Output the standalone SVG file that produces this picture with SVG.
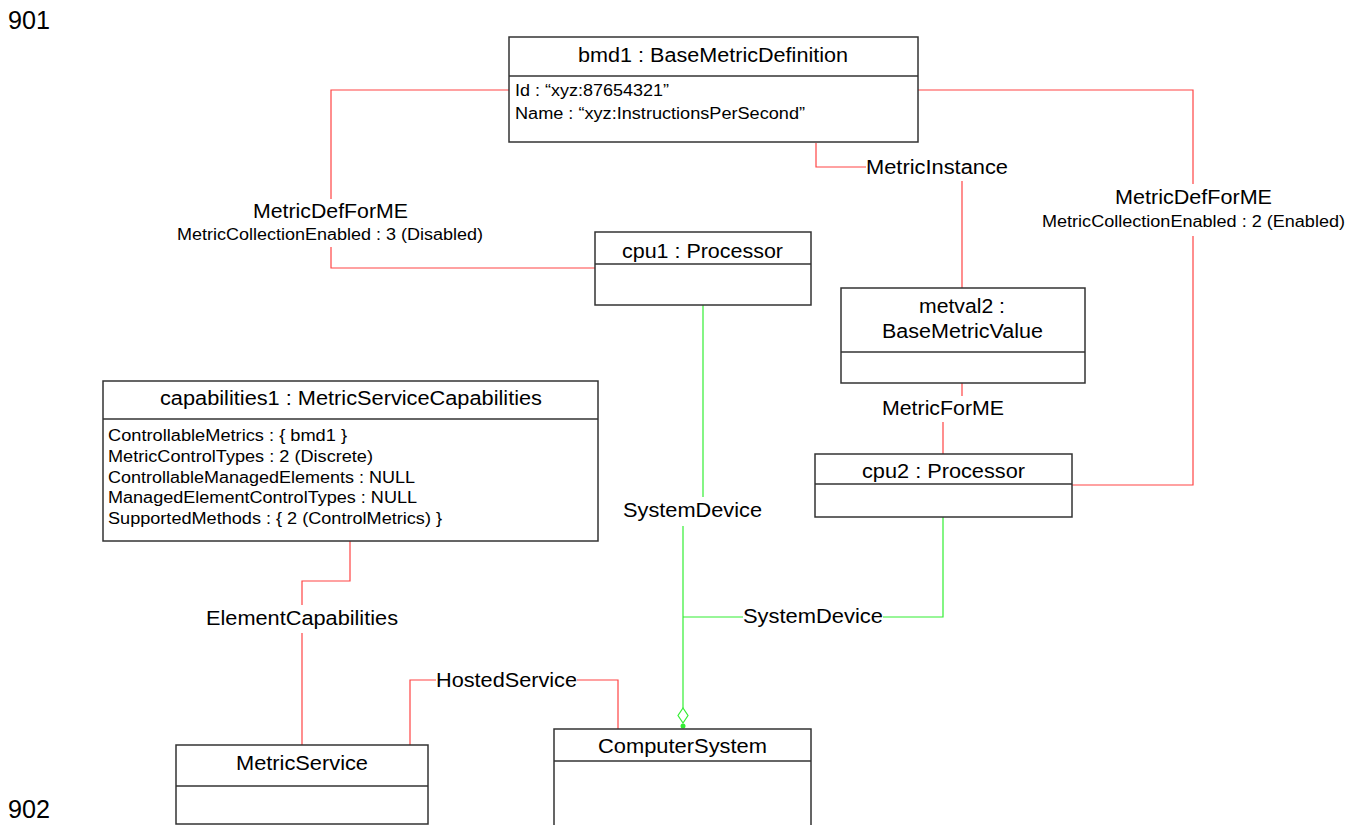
<svg xmlns="http://www.w3.org/2000/svg" width="1359" height="825" viewBox="0 0 1359 825">
<style>
text{font-family:"Liberation Sans",Arial,sans-serif;fill:#000}
.t{font-size:20px}
.a{font-size:16px}
.big{font-size:26px}
.box{fill:#fff;stroke:#333;stroke-width:1.5}
.red{fill:none;stroke:#ff4444;stroke-width:1.2}
.grn{fill:none;stroke:#33ee33;stroke-width:1.2}
</style>
<rect width="1359" height="825" fill="#fff"/>
<text class="big" x="8" y="29" textLength="42" lengthAdjust="spacingAndGlyphs">901</text>
<text class="big" x="8" y="818" textLength="42" lengthAdjust="spacingAndGlyphs">902</text>
<g id="connectors">
  <polyline class="red" points="509,90 331,90 331,199"/>
  <polyline class="red" points="331,247 331,268 595,268"/>
  <polyline class="red" points="918,90 1193,90 1193,184"/>
  <polyline class="red" points="1193,236 1193,485 1072,485"/>
  <polyline class="red" points="816,143 816,167 866,167"/>
  <line class="red" x1="962" y1="181" x2="962" y2="288"/>
  <line class="red" x1="962" y1="383" x2="962" y2="396"/>
  <line class="red" x1="943" y1="422" x2="943" y2="454"/>
  <polyline class="red" points="350,541 350,581 302,581 302,605"/>
  <line class="red" x1="302" y1="633" x2="302" y2="745"/>
  <polyline class="red" points="410,745 410,680 436,680"/>
  <polyline class="red" points="577,680 618,680 618,729"/>
  <line class="grn" x1="703" y1="305" x2="703" y2="497"/>
  <line class="grn" x1="683" y1="526" x2="683" y2="708"/>
  <polyline class="grn" points="683,617 743,617"/>
  <polyline class="grn" points="883,617 943,617 943,517"/>
  <polygon class="grn" points="683,708 688,715.5 683,723 678,715.5"/>
  <circle cx="683" cy="726" r="2.5" fill="#33ee33"/>
  <text class="t" x="253" y="218" textLength="155" lengthAdjust="spacingAndGlyphs">MetricDefForME</text>
  <text class="a" x="177" y="240" textLength="306" lengthAdjust="spacingAndGlyphs">MetricCollectionEnabled : 3 (Disabled)</text>
  <text class="t" x="1115" y="204" textLength="157" lengthAdjust="spacingAndGlyphs">MetricDefForME</text>
  <text class="a" x="1042" y="227" textLength="303" lengthAdjust="spacingAndGlyphs">MetricCollectionEnabled : 2 (Enabled)</text>
  <text class="t" x="866" y="174" textLength="142" lengthAdjust="spacingAndGlyphs">MetricInstance</text>
  <text class="t" x="882" y="415" textLength="122" lengthAdjust="spacingAndGlyphs">MetricForME</text>
  <text class="t" x="623" y="517" textLength="139" lengthAdjust="spacingAndGlyphs">SystemDevice</text>
  <text class="t" x="743" y="623" textLength="140" lengthAdjust="spacingAndGlyphs">SystemDevice</text>
  <text class="t" x="206" y="625" textLength="192" lengthAdjust="spacingAndGlyphs">ElementCapabilities</text>
  <text class="t" x="436" y="687" textLength="141" lengthAdjust="spacingAndGlyphs">HostedService</text>
</g>
<g id="bmd1">
  <rect class="box" x="509" y="37" width="409" height="105"/>
  <line class="box" x1="509" y1="76" x2="918" y2="76"/>
  <text class="t" x="578" y="62" textLength="270" lengthAdjust="spacingAndGlyphs">bmd1 : BaseMetricDefinition</text>
  <text class="a" x="515" y="96" textLength="154" lengthAdjust="spacingAndGlyphs">Id : “xyz:87654321”</text>
  <text class="a" x="515" y="119" textLength="290" lengthAdjust="spacingAndGlyphs">Name : “xyz:InstructionsPerSecond”</text>
</g>
<g id="cpu1">
  <rect class="box" x="595" y="232" width="216" height="73"/>
  <line class="box" x1="595" y1="264" x2="811" y2="264"/>
  <text class="t" x="622" y="258" textLength="161" lengthAdjust="spacingAndGlyphs">cpu1 : Processor</text>
</g>
<g id="metval2">
  <rect class="box" x="841" y="288" width="244" height="95"/>
  <line class="box" x1="841" y1="352" x2="1085" y2="352"/>
  <text class="t" x="919" y="313" textLength="86" lengthAdjust="spacingAndGlyphs">metval2 :</text>
  <text class="t" x="882" y="338" textLength="161" lengthAdjust="spacingAndGlyphs">BaseMetricValue</text>
</g>
<g id="cpu2">
  <rect class="box" x="815" y="454" width="257" height="63"/>
  <line class="box" x1="815" y1="484" x2="1072" y2="484"/>
  <text class="t" x="862" y="478" textLength="163" lengthAdjust="spacingAndGlyphs">cpu2 : Processor</text>
</g>
<g id="capabilities1">
  <rect class="box" x="103" y="381" width="495" height="160"/>
  <line class="box" x1="103" y1="419" x2="598" y2="419"/>
  <text class="t" x="160" y="405" textLength="382" lengthAdjust="spacingAndGlyphs">capabilities1 : MetricServiceCapabilities</text>
  <text class="a" x="108" y="441" textLength="239" lengthAdjust="spacingAndGlyphs">ControllableMetrics : { bmd1 }</text>
  <text class="a" x="108" y="462" textLength="265" lengthAdjust="spacingAndGlyphs">MetricControlTypes : 2 (Discrete)</text>
  <text class="a" x="108" y="483" textLength="307" lengthAdjust="spacingAndGlyphs">ControllableManagedElements : NULL</text>
  <text class="a" x="108" y="503" textLength="309" lengthAdjust="spacingAndGlyphs">ManagedElementControlTypes : NULL</text>
  <text class="a" x="108" y="524" textLength="334" lengthAdjust="spacingAndGlyphs">SupportedMethods : { 2 (ControlMetrics) }</text>
</g>
<g id="MetricService">
  <rect class="box" x="176" y="745" width="252" height="79"/>
  <line class="box" x1="176" y1="786" x2="428" y2="786"/>
  <text class="t" x="236" y="770" textLength="132" lengthAdjust="spacingAndGlyphs">MetricService</text>
</g>
<g id="ComputerSystem">
  <rect class="box" x="554" y="729" width="257" height="110"/>
  <line class="box" x1="554" y1="761" x2="811" y2="761"/>
  <text class="t" x="598" y="753" textLength="169" lengthAdjust="spacingAndGlyphs">ComputerSystem</text>
</g>
</svg>
